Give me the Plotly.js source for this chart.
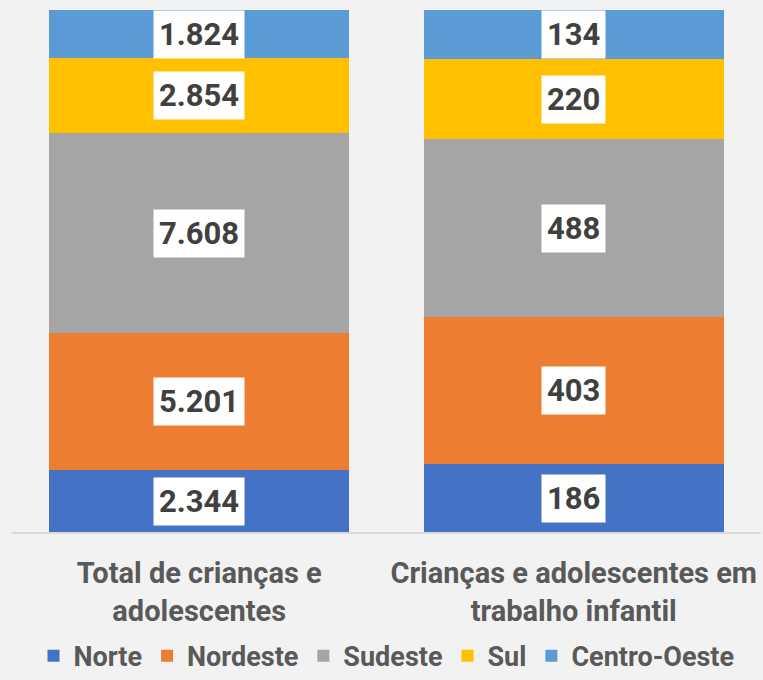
<!DOCTYPE html>
<html>
<head>
<meta charset="utf-8">
<script src="https://cdn.plot.ly/plotly-3.0.1.min.js"></script>
<style>
  body { margin: 0; background: #f2f2f2; }
  #graph { width: 763px; height: 680px; }
</style>
</head>
<body>
<div id="graph"></div>
<script>
// categories and series
var categories = ['Total de crianças e<br>adolescentes', 'Crianças e adolescentes em<br>trabalho infantil'];
var regions = ['Norte', 'Nordeste', 'Sudeste', 'Sul', 'Centro-Oeste'];
var colors = ['#4472C4', '#ED7D31', '#A5A5A5', '#FFC000', '#5B9BD5'];
var norte = [2344, 186];
var nordeste = [5201, 403];
var sudeste = [7608, 488];
var sul = [2854, 220];
var centroOeste = [1824, 134];
var series = [norte, nordeste, sudeste, sul, centroOeste];

var FONT = 'Roboto, "DejaVu Sans", sans-serif';

// brazilian thousands separator
function fmt(v) {
  return String(v).replace(/\B(?=(\d{3})+(?!\d))/g, '.');
}

var data = series.map(function (vals, i) {
  return {
    type: 'bar',
    name: regions[i],
    x: categories,
    y: vals,
    width: 0.8,
    marker: { color: colors[i], line: { width: 0 } },
    hoverinfo: 'none'
  };
});

// labels in white boxes at the middle of each segment
var annotations = [];
categories.forEach(function (cat, c) {
  var total = 0;
  series.forEach(function (s) { total += s[c]; });
  var cum = 0;
  series.forEach(function (s) {
    var mid = (cum + s[c] / 2) / total * 100;
    cum += s[c];
    annotations.push({
      x: cat, y: mid, xref: 'x', yref: 'y',
      text: fmt(s[c]),
      showarrow: false,
      bgcolor: '#ffffff',
      borderpad: 5,
      font: { family: FONT, size: 31, color: '#404040', weight: 'bold' }
    });
  });
});

var layout = {
  barmode: 'stack',
  barnorm: 'percent',
  paper_bgcolor: '#f2f2f2',
  plot_bgcolor: '#f2f2f2',
  margin: { l: 12, r: 2, t: 10, b: 148 },
  xaxis: {
    showline: true, linecolor: '#d9d9d9', linewidth: 2,
    ticks: '', ticklabelstandoff: 14,
    tickfont: { family: FONT, size: 29, color: '#595959', weight: 'bold' }
  },
  yaxis: { visible: false, range: [0, 100], showgrid: false, zeroline: false },
  showlegend: true,
  legend: {
    orientation: 'h', xanchor: 'center', x: 0.5,
    yref: 'container', y: 0.035, yanchor: 'middle',
    traceorder: 'normal',
    font: { family: FONT, size: 27, color: '#595959', weight: 'bold' }
  },
  annotations: annotations
};

Plotly.newPlot('graph', data, layout, { displayModeBar: false, staticPlot: true });
</script>
</body>
</html>
